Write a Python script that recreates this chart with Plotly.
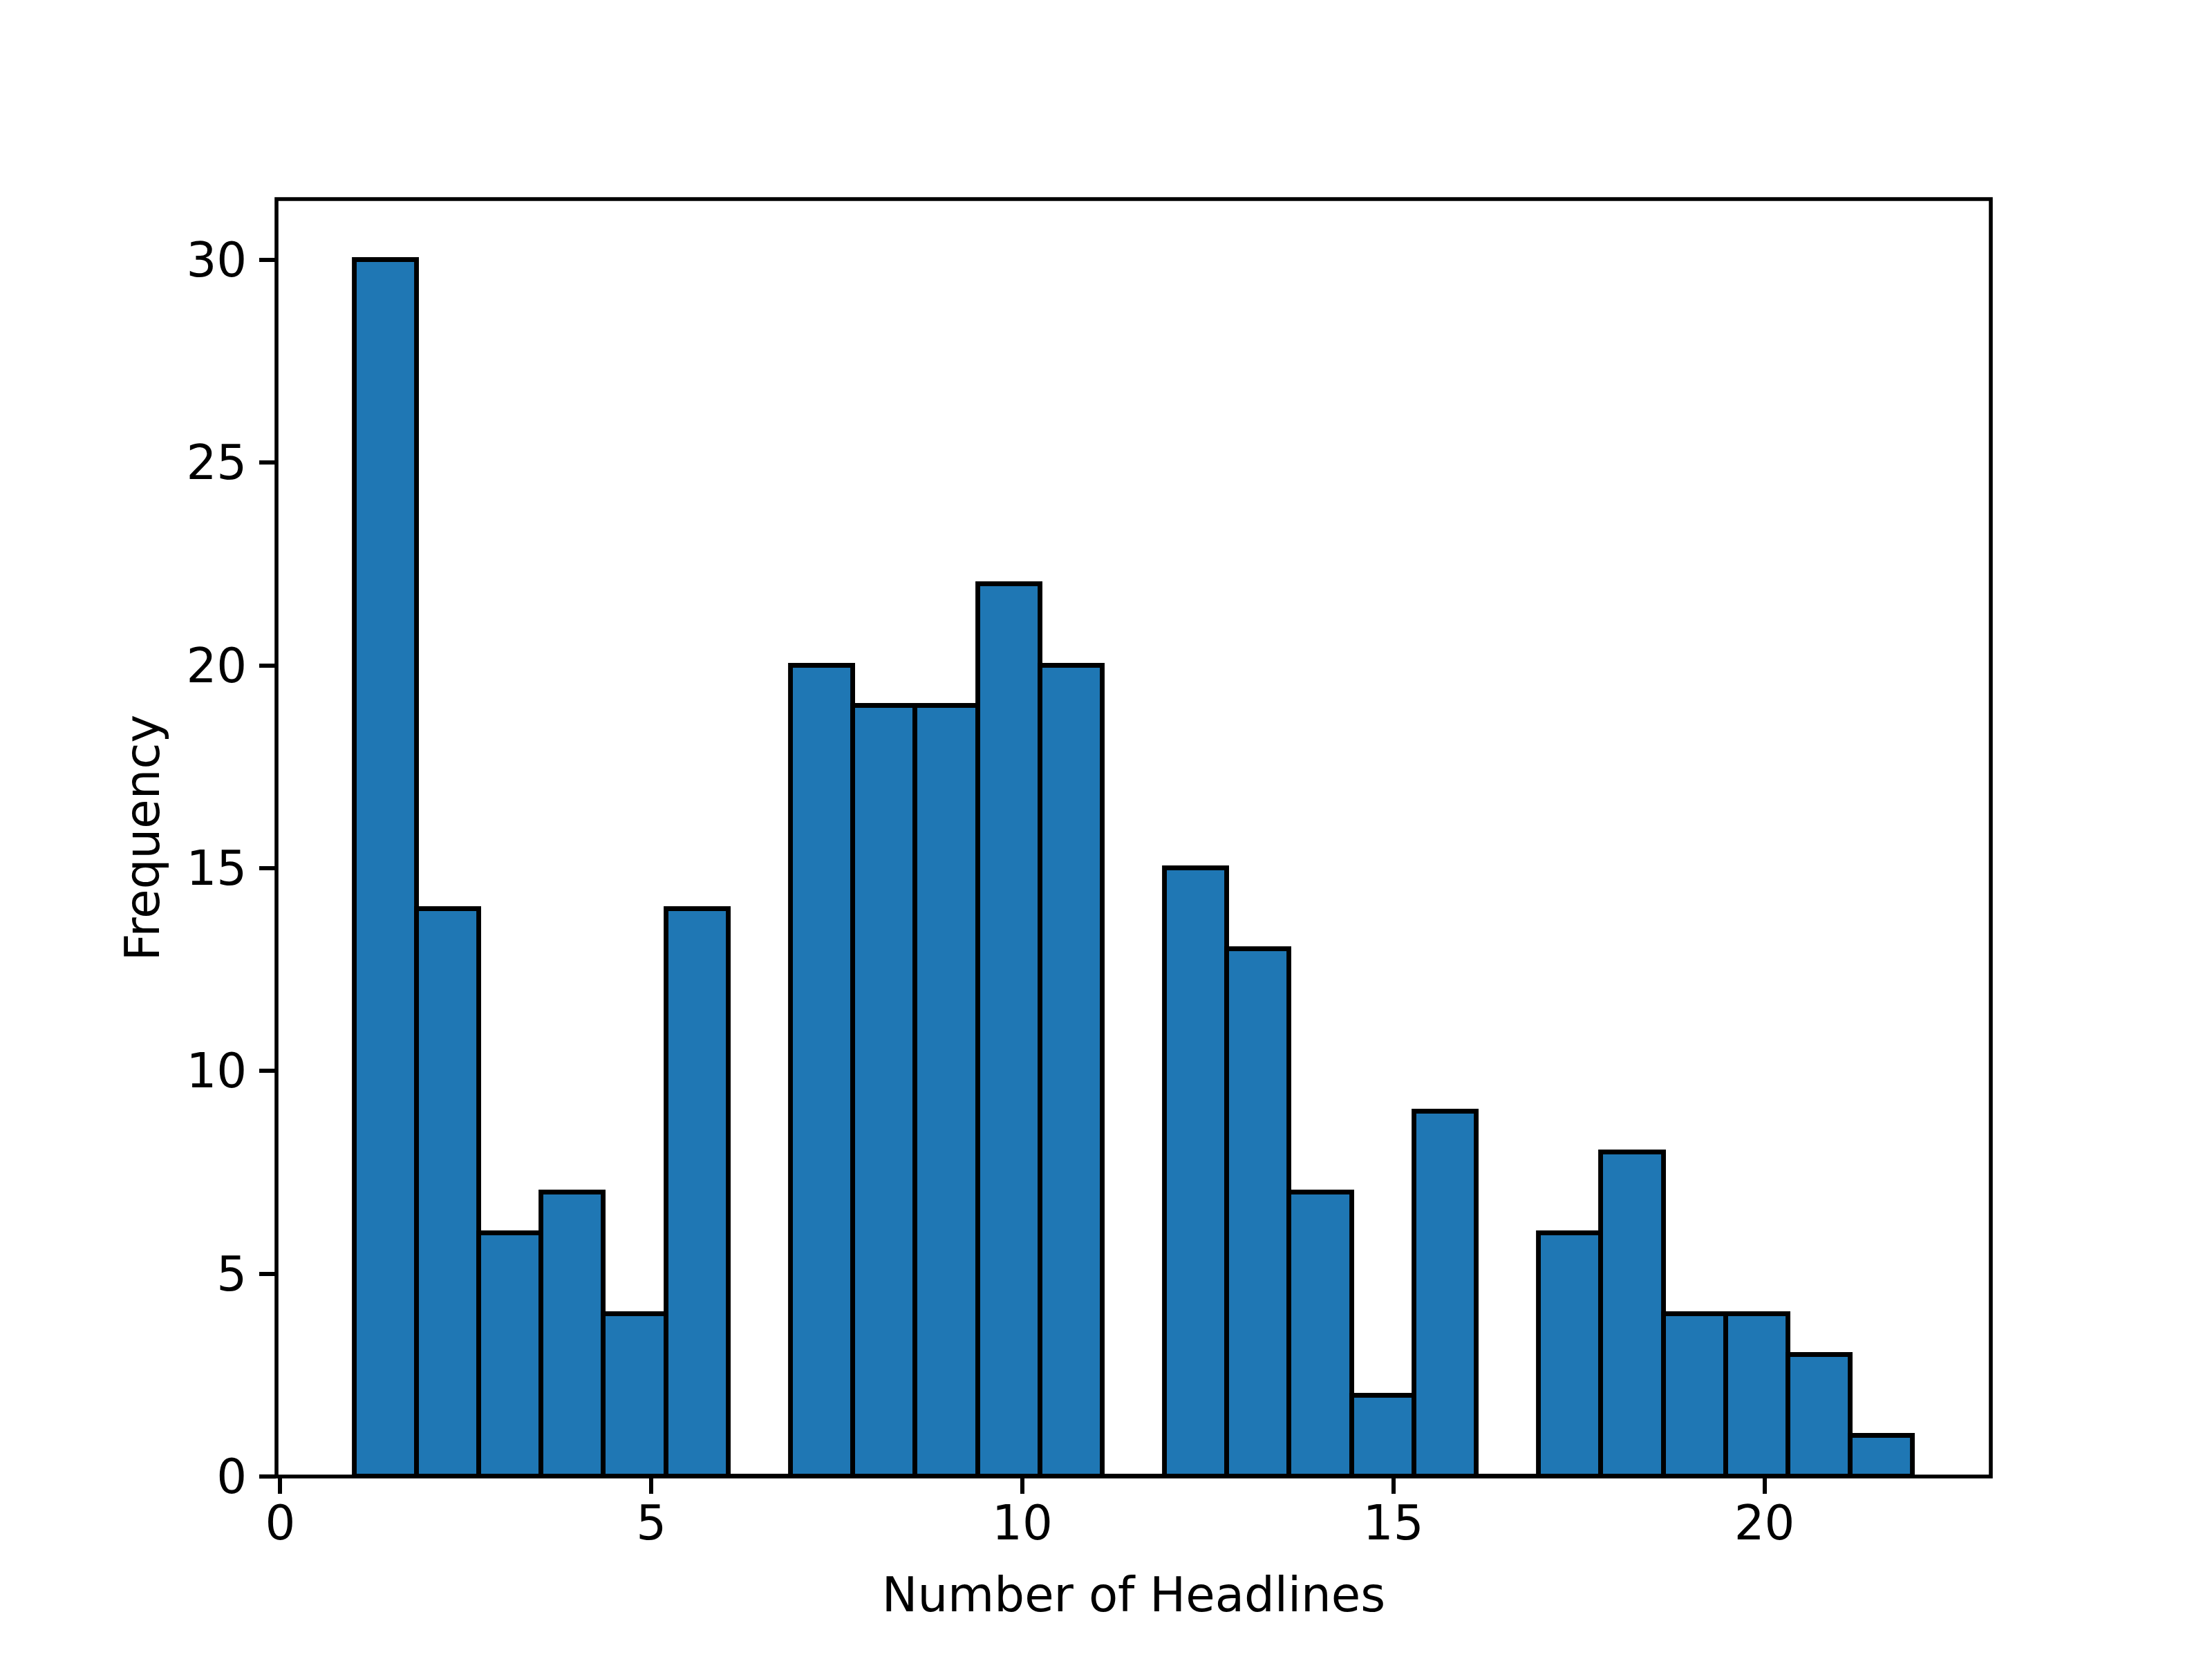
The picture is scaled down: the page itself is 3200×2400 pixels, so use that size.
import numpy as np
import plotly.graph_objects as go

# histogram of headline counts, 25 bins between 1 and 22
bin_min = 1
bin_max = 22
n_bins = 25
counts = [30, 14, 6, 7, 4, 14, 0, 20, 19, 19, 22, 20, 0,
          15, 13, 7, 2, 9, 0, 6, 8, 4, 4, 3, 1]
x_ticks = [0, 5, 10, 15, 20]
y_ticks = [0, 5, 10, 15, 20, 25, 30]

edges = np.linspace(bin_min, bin_max, n_bins + 1)
bin_width = edges[1] - edges[0]

font = dict(family='DejaVu Sans', size=69, color='black')

fig = go.Figure(go.Bar(
    x=edges[:-1],
    y=counts,
    width=bin_width,
    offset=0,
    marker=dict(color='#1f77b4', line=dict(color='black', width=6.9)),
))

span = bin_max - bin_min
axis_style = dict(
    showline=False, showgrid=False, zeroline=False,
    ticks='outside', ticklen=24, tickwidth=5.6, tickcolor='black',
    tickfont=font,
)

# frame centred on the plot edges, like matplotlib spines
fig.add_shape(type='rect', xref='paper', yref='paper', x0=0, x1=1, y0=0, y1=1,
              line=dict(color='black', width=5.6), layer='above')

# page body has an 8px margin, so shift the margins to compensate
fig.update_layout(
    width=3200, height=2400,
    margin=dict(l=392, r=328, t=280, b=272),
    paper_bgcolor='white', plot_bgcolor='white',
    showlegend=False, bargap=0,
    xaxis=dict(range=[bin_min - 0.05 * span, bin_max + 0.05 * span],
               tickvals=x_ticks, ticklabelstandoff=-17,
               title=dict(text='Number of Headlines', font=font, standoff=40),
               **axis_style),
    yaxis=dict(range=[0, max(counts) * 1.05],
               tickvals=y_ticks, ticklabelstandoff=4,
               title=dict(text='Frequency', font=font, standoff=16),
               **axis_style),
)

fig.write_html('out.html')
